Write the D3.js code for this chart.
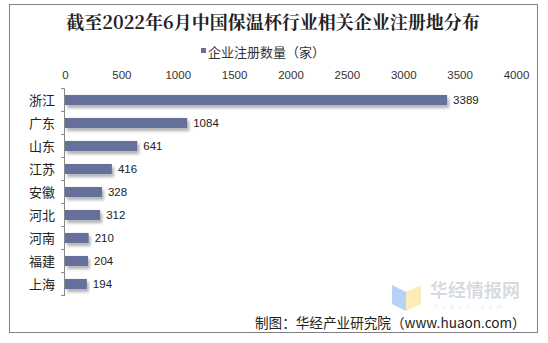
<!DOCTYPE html>
<html>
<head>
<meta charset="utf-8">
<script src="https://cdn.jsdelivr.net/npm/d3@7/dist/d3.min.js"></script>
<style>
  html, body { margin: 0; padding: 0; background: #fff; }
  svg { display: block; }
  text { font-family: "Liberation Sans", "Noto Sans CJK SC", sans-serif; }
</style>
</head>
<body>
<svg id="chart" width="548" height="343"></svg>
<script>
// Registered thermos-cup enterprises by province (count)
const provinces = ["浙江", "广东", "山东", "江苏", "安徽", "河北", "河南", "福建", "上海"];
const counts = [3389, 1084, 641, 416, 328, 312, 210, 204, 194];
const xTicks = [0, 500, 1000, 1500, 2000, 2500, 3000, 3500, 4000];

const titleText = "截至2022年6月中国保温杯行业相关企业注册地分布";
const legendText = "企业注册数量（家）";
const sourceText = "制图：华经产业研究院（www.huaon.com）";

const svg = d3.select("#chart");
const cjk = '"Noto Sans CJK SC", sans-serif';

// drop shadow for bars
const defs = svg.append("defs");
const f = defs.append("filter").attr("id", "shadow")
  .attr("x", "-5%").attr("y", "-40%").attr("width", "115%").attr("height", "200%");
f.append("feDropShadow").attr("dx", 2).attr("dy", 3).attr("stdDeviation", 1.6)
  .attr("flood-color", "#000").attr("flood-opacity", 0.3);

// outer frame
svg.append("rect").attr("x", 9.5).attr("y", 4.5).attr("width", 528).attr("height", 328)
  .attr("fill", "#fff").attr("stroke", "#7f7f7f").attr("stroke-width", 1);

// title
svg.append("text").attr("x", 273).attr("y", 29).attr("text-anchor", "middle")
  .style("font-family", '"Noto Serif CJK SC", "Noto Sans CJK SC", serif')
  .style("font-weight", "bold").style("font-size", "18px").attr("fill", "#222")
  .text(titleText);

// legend
svg.append("rect").attr("x", 201).attr("y", 48).attr("width", 5).attr("height", 5).attr("fill", "#65719a");
svg.append("text").attr("x", 208).attr("y", 56.5).style("font-family", cjk)
  .style("font-size", "13px").attr("fill", "#333").text(legendText);

// scales
const x = d3.scaleLinear().domain([0, 4000]).range([65, 516]);
const y = d3.scaleBand().domain(provinces).range([88.5, 295.5]).paddingInner(0.56).paddingOuter(0.28);

// top axis labels (no line)
const xAxis = svg.append("g").attr("transform", "translate(0,79)")
  .call(d3.axisTop(x).tickValues(xTicks).tickSize(0).tickPadding(0).tickFormat(d3.format("d")));
xAxis.select(".domain").remove();
xAxis.selectAll("text").style("font-size", "11.5px").attr("fill", "#333")
  .style("font-family", '"Liberation Sans", sans-serif');

// bars
svg.append("g").selectAll("rect").data(counts).join("rect")
  .attr("x", x(0)).attr("y", (d, i) => y(provinces[i]))
  .attr("width", d => x(d) - x(0)).attr("height", y.bandwidth())
  .attr("fill", "#65719a").attr("filter", "url(#shadow)");

// value labels
svg.append("g").selectAll("text").data(counts).join("text")
  .attr("x", d => x(d) + 6).attr("y", (d, i) => y(provinces[i]) + y.bandwidth() / 2 + 4)
  .style("font-size", "11.5px").attr("fill", "#222").text(d => d);

// left category axis
const yAxis = svg.append("g");
yAxis.append("line").attr("x1", 64.5).attr("x2", 64.5).attr("y1", 88.5).attr("y2", 296)
  .attr("stroke", "#888");
yAxis.selectAll("line.tick").data(d3.range(provinces.length + 1)).join("line")
  .attr("class", "tick").attr("x1", 61).attr("x2", 64.5)
  .attr("y1", i => 88.5 + i * (207 / provinces.length))
  .attr("y2", i => 88.5 + i * (207 / provinces.length)).attr("stroke", "#888");
yAxis.selectAll("text").data(provinces).join("text")
  .attr("x", 55).attr("y", d => y(d) + y.bandwidth() / 2 + 4.5).attr("text-anchor", "end")
  .style("font-family", cjk).style("font-size", "13px").attr("fill", "#222").text(d => d);

// watermark logo
const wm = svg.append("g").attr("opacity", 0.75);
wm.append("path").attr("d", "M392,285 L406,292 L406,311 L392,304 Z").attr("fill", "#9ec3f5");
wm.append("path").attr("d", "M406,292 L421,285 L421,304 L406,311 Z").attr("fill", "#fbe7a1");
wm.append("text").attr("x", 430).attr("y", 297).style("font-family", cjk)
  .style("font-size", "18px").style("font-weight", "bold").attr("fill", "#c9ced8").text("华经情报网");
wm.append("text").attr("x", 434).attr("y", 309).style("font-size", "6.5px")
  .attr("fill", "#e0e3e8").attr("letter-spacing", "4.5").text("huaon.com");

// source note
svg.append("text").attr("x", 255).attr("y", 327.5).style("font-family", cjk)
  .style("font-size", "13.6px").attr("fill", "#222").text(sourceText);
</script>
</body>
</html>
